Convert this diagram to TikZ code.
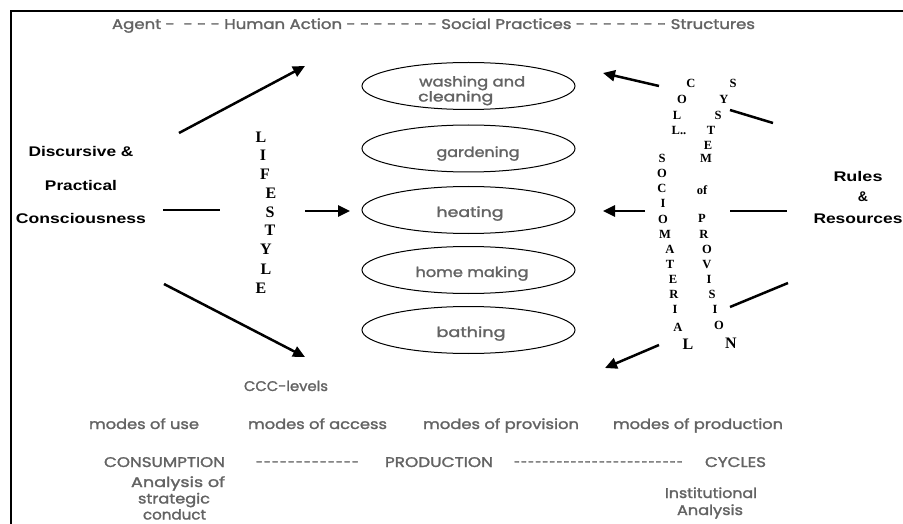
\documentclass[tikz,border=0pt]{standalone}
\usepackage{fontspec}
\usepackage{graphicx}
\usetikzlibrary{arrows.meta,shapes.geometric}
\newfontfamily\gfont[FakeBold=1.6]{Poppins}
\newfontfamily\afont{Liberation Sans}
\newfontfamily\tfont{Liberation Serif}
\definecolor{gtxt}{HTML}{636363}
\newcommand\fw[2]{\resizebox{#1}{\height}{#2}}
\newcommand\dashrow[1]{\foreach\i in {1,...,#1}{-\kern1.5pt}}
\begin{document}
\begin{tikzpicture}[x=1pt,y=-1pt,
  gray text/.style={inner sep=0pt, anchor=base, text=gtxt, font=\gfont\fontsize{14}{16}\selectfont},
  black text/.style={inner sep=0pt, anchor=base, font=\afont\bfseries\fontsize{14}{16}\selectfont},
  ser/.style={inner sep=0pt, anchor=base, font=\tfont\bfseries\fontsize{12.5}{14}\selectfont},
  serbig/.style={inner sep=0pt, anchor=base, font=\tfont\bfseries\fontsize{16}{18}\selectfont},
  practice/.style={ellipse, draw, line width=1pt, minimum width=213pt, minimum height=47pt, inner sep=0pt},
  arr/.style={line width=2.5pt, -{Triangle[length=12pt,width=11pt]}},
  ln/.style={line width=2.5pt},
]
\useasboundingbox (0,0) rectangle (903,524);
% frame
\coordinate (fr1) at (903,11);
\coordinate (fr2) at (11,11);
\coordinate (fr3) at (11,525);
\draw[line width=2pt] (fr1) -- (fr2) -- (fr3);

% title
\node[gray text] (top) at (433.5,29) {\fw{643pt}{Agent -\ \ - - - Human Action - - - - - - - Social Practices - - - - - - - Structures}};

% left text
\node[black text] (d1) at (81,157) {\fw{105pt}{Discursive \&}};
\node[black text] (d2) at (81,191) {\fw{72pt}{Practical}};
\node[black text] (d3) at (81,224) {\fw{130pt}{Consciousness}};

% LIFESTYLE
\foreach \l/\x/\y [count=\i] in {L/261/137, I/263/155, F/265/174, E/271/193, S/270/212, T/270/230, Y/266/249, L/266/269, E/261/288}
  \node[serbig] (ls\i) at (\x,\y+5.5) {\l};

% practices
\foreach \n/\y in {1/86,2/148.5,3/210,4/270,5/330}
  \node[practice] (p\n) at (468.5,\y) {};
\node[gray text, anchor=base west] (t1a) at (419,86.5) {\fw{106pt}{washing and}};
\node[gray text, anchor=base west] (t1b) at (418,101.5) {\fw{75pt}{cleaning}};
\node[gray text] (t2) at (478,157) {\fw{83pt}{gardening}};
\node[gray text] (t3) at (470,217) {\fw{67pt}{heating}};
\node[gray text] (t4) at (472,277) {\fw{113pt}{home making}};
\node[gray text] (t5) at (471,337) {\fw{69pt}{bathing}};

% COLL.. SOCIOMATERIAL
\foreach \l/\x/\y [count=\i] in {C/691/83, O/682/99, L/677/115, L../679/130, S/662/158, O/662/173, C/662/188, I/663/203, O/663/219, M/665/234, A/670/249, T/670/264, E/673/279, R/674/294, I/675/309, A/678/327}
  \node[ser] (cs\i) at (\x,\y+4.2) {\l};
\node[serbig] (csL) at (688,349.5) {L};
% SYSTEM of PROVISION
\foreach \l/\x/\y [count=\i] in {S/733/83, Y/724/99, S/718/115, T/711/130, E/708/145, M/706/158, of/702/190, P/702/218, R/704/234, O/707/249, V/707/264, I/709/279, S/712/294, I/715/309, O/719/325}
  \node[ser] (sp\i) at (\x,\y+4.2) {\l};
\node[serbig] (spN) at (731,348.5) {N};

% Rules & Resources
\node[black text] (r1) at (858,182) {\fw{49pt}{Rules}};
\node[black text] (r2) at (863,201) {\&};
\node[black text] (r3) at (858,223) {\fw{89pt}{Resources}};

% connectors left
\coordinate (a1s) at (179,133); \coordinate (a1e) at (305,66);
\coordinate (a2s) at (163,210); \coordinate (a2e) at (220,210);
\coordinate (a3s) at (305,211); \coordinate (a3e) at (350,211);
\coordinate (a4s) at (164,284); \coordinate (a4e) at (305,357);
\draw[arr] (a1s) -- (a1e);
\draw[ln] (a2s) -- (a2e);
\draw[arr] (a3s) -- (a3e);
\draw[arr] (a4s) -- (a4e);
% connectors right
\coordinate (b1s) at (659,86); \coordinate (b1e) at (603,73);
\coordinate (b2s) at (730,110); \coordinate (b2e) at (773,123);
\coordinate (b3s) at (645,211); \coordinate (b3e) at (603,211);
\coordinate (b4s) at (730,211); \coordinate (b4e) at (787,211);
\coordinate (b5s) at (730,307); \coordinate (b5e) at (788,283);
\coordinate (b6s) at (659,345); \coordinate (b6e) at (605,368);
\draw[arr] (b1s) -- (b1e);
\draw[ln] (b2s) -- (b2e);
\draw[arr] (b3s) -- (b3e);
\draw[ln] (b4s) -- (b4e);
\draw[ln] (b5s) -- (b5e);
\draw[arr] (b6s) -- (b6e);

% bottom texts
\node[gray text] (ccc) at (286,391) {\fw{84pt}{CCC-levels}};
\node[gray text] (m1) at (144,429) {\fw{110pt}{modes of use}};
\node[gray text] (m2) at (317.5,429) {\fw{139pt}{modes of access}};
\node[gray text] (m3) at (501,429) {\fw{156pt}{modes of provision}};
\node[gray text] (m4) at (698,429) {\fw{170pt}{modes of production}};
\node[gray text] (c1) at (164.5,467) {\fw{121pt}{CONSUMPTION}};
\node[gray text] (c2) at (308,467) {\fw{104pt}{\dashrow{13}}};
\node[gray text] (c3) at (439,467) {\fw{108pt}{PRODUCTION}};
\node[gray text] (c4) at (599,467) {\fw{170pt}{\dashrow{24}}};
\node[gray text] (c5) at (735.5,467) {\fw{61pt}{CYCLES}};
\node[gray text] (s1) at (178,487) {\fw{94pt}{Analysis of}};
\node[gray text] (s2) at (174,503.5) {\fw{72pt}{strategic}};
\node[gray text] (s3) at (174.5,519.5) {\fw{63pt}{conduct}};
\node[gray text] (i1) at (711,498) {\fw{92pt}{Institutional}};
\node[gray text] (i2) at (710,515) {\fw{66pt}{Analysis}};
\end{tikzpicture}
\end{document}
